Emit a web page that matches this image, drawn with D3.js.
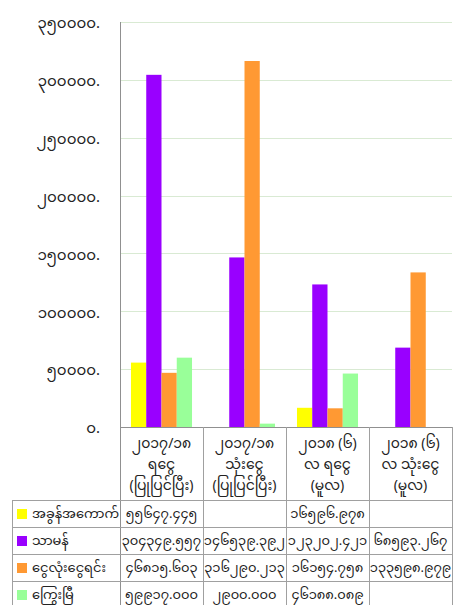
<!DOCTYPE html>
<html><head><meta charset="utf-8">
<script src="https://cdn.jsdelivr.net/npm/d3@7"></script>
<style>
body{margin:0;background:#fff}
text{font-family:"Noto Sans Myanmar","Padauk","Myanmar Text","Noto Sans",sans-serif;fill:#222}
</style>
</head><body><svg id="c" width="454" height="605"></svg>
<script>
const categories = ["c1","c2","c3","c4"];
const categoryLabels = [
  ["၂၀၁၇/၁၈","ရငွေ","(ပြုပြင်ပြီး)"],
  ["၂၀၁၇/၁၈","သုံးငွေ","(ပြုပြင်ပြီး)"],
  ["၂၀၁၈ (၆)","လ ရငွေ","(မူလ)"],
  ["၂၀၁၈ (၆)","လ သုံးငွေ","(မူလ)"]
];
const seriesNames = ["အခွန်အကောက်","သာမန်","ငွေလုံးငွေရင်း","ကြွေးမြီ"];
const seriesColors = ["#ffff00","#9900ff","#ff9933","#99ff99"];
const taxValues = [55647.445, null, 16596.978, null];
const ordinaryValues = [304349.557, 146539.392, 123202.421, 68593.267];
const capitalValues = [46815.603, 316290.213, 16154.758, 133598.979];
const debtValues = [59917.000, 2900.000, 46188.089, null];
const yTickValues = [0,50000,100000,150000,200000,250000,300000,350000];
const yTickLabels = ["၀.","၅၀၀၀၀.","၁၀၀၀၀၀.","၁၅၀၀၀၀.","၂၀၀၀၀၀.","၂၅၀၀၀၀.","၃၀၀၀၀၀.","၃၅၀၀၀၀."];

const seriesValues = [taxValues, ordinaryValues, capitalValues, debtValues];
const myDigits = "၀၁၂၃၄၅၆၇၈၉";
const toMy = s => s.replace(/[0-9]/g, d => myDigits[+d]);
const fmtVal = v => v == null ? "" : toMy(v.toFixed(3));
const FONT = '"Noto Sans Myanmar","Padauk","Myanmar Text","Noto Sans",sans-serif';

const svg = d3.select("#c");
const L = 120, R = 452, T = 22, B = 427;
const x = d3.scaleBand().domain(categories).range([L, R]).paddingInner(0).paddingOuter(0);
const xs = d3.scaleBand().domain(d3.range(4)).range([0, x.bandwidth()]).paddingInner(0).paddingOuter(0.72);
const y = d3.scaleLinear().domain([0, 350000]).range([B, T]);

// gridlines
svg.append("g").selectAll("line").data(yTickValues.filter(v => v > 0)).join("line")
  .attr("x1", L).attr("x2", R).attr("y1", d => Math.round(y(d)) + 0.5).attr("y2", d => Math.round(y(d)) + 0.5)
  .attr("stroke", "#d9ead3").attr("stroke-width", 1);

// y labels
const yAxis = d3.axisLeft(y).tickValues(yTickValues).tickFormat((d,i) => yTickLabels[i]).tickSize(0).tickPadding(20);
const ga = svg.append("g").attr("transform", `translate(${L},1)`).call(yAxis);
ga.select(".domain").remove();
ga.selectAll("text").attr("font-size", 15).attr("fill", "#222").style("font-family", FONT);

// bars
const barData = [];
seriesValues.forEach((vals, si) => vals.forEach((v, ci) => { if (v != null) barData.push({si, ci, v}); }));
svg.append("g").selectAll("rect").data(barData).join("rect")
  .attr("x", d => x(categories[d.ci]) + xs(d.si))
  .attr("width", xs.bandwidth())
  .attr("y", d => y(d.v))
  .attr("height", d => B - y(d.v))
  .attr("fill", d => seriesColors[d.si]);

// table
const rowTop = 500, rowH = 27, tableLeft = 12;
const lineColor = "#a0a0a0";
const lines = svg.append("g").attr("stroke", lineColor).attr("shape-rendering","crispEdges");
lines.append("line").attr("x1", L+0.5).attr("x2", L+0.5).attr("y1", T).attr("y2", 605).attr("stroke","#909090");
lines.append("line").attr("x1", L).attr("x2", R+1).attr("y1", B+0.5).attr("y2", B+0.5).attr("stroke","#909090");
categories.forEach(c => {
  const xr = x(c) + x.bandwidth();
  lines.append("line").attr("x1", xr+0.5).attr("x2", xr+0.5).attr("y1", B).attr("y2", 605);
});
lines.append("line").attr("x1", tableLeft+0.5).attr("x2", tableLeft+0.5).attr("y1", rowTop).attr("y2", 605);
for (let r = 0; r < 4; r++) {
  lines.append("line").attr("x1", tableLeft).attr("x2", R+1).attr("y1", rowTop + r*rowH + 0.5).attr("y2", rowTop + r*rowH + 0.5);
}

// category labels
categories.forEach((c, ci) => {
  const cx = x(c) + x.bandwidth()/2;
  categoryLabels[ci].forEach((t, li) => {
    svg.append("text").attr("x", cx).attr("y", 448 + li*21).attr("text-anchor","middle").attr("font-size", 14).text(t);
  });
});

// legend column and values
seriesNames.forEach((name, si) => {
  const top = rowTop + si*rowH;
  svg.append("rect").attr("x", 17).attr("y", top + 9).attr("width", 10).attr("height", 10).attr("fill", seriesColors[si]);
  svg.append("text").attr("x", 32).attr("y", top + 18).attr("font-size", 13).text(name);
  seriesValues[si].forEach((v, ci) => {
    svg.append("text").attr("x", x(categories[ci]) + x.bandwidth()/2).attr("y", top + 18)
      .attr("text-anchor","middle").attr("font-size", 13).text(fmtVal(v));
  });
});
</script></body></html>
